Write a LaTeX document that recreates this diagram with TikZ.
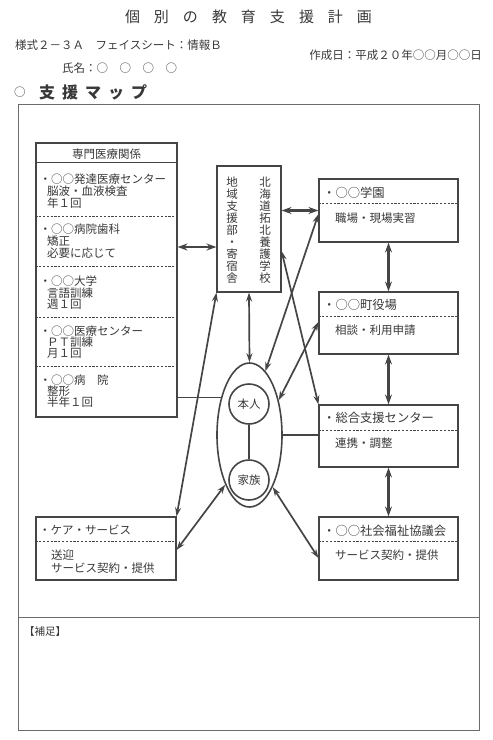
\documentclass[tikz,border=0pt]{standalone}
\usepackage{fontspec}
\newfontfamily\jp{Noto Sans CJK JP}
\usetikzlibrary{arrows.meta,calc,shapes.geometric}
\definecolor{txtc}{gray}{0.22}
\definecolor{linec}{gray}{0.27}
\definecolor{framec}{gray}{0.42}
\tikzset{
  txt/.style={font=\jp\fontsize{11.5}{12}\selectfont, inner sep=0pt, anchor=west, text=txtc},
  txtw/.style={txt, font=\jp\fontsize{12.3}{12}\selectfont},
  vtxt/.style={txt, anchor=center, align=center},
  box/.style={draw=linec, line width=1.1pt, rectangle, inner sep=0pt},
  sepline/.style={draw=linec, line width=0.7pt, dash pattern=on 2.2pt off 1.6pt},
  plain/.style={draw=linec, line width=1.1pt},
  conn/.style={draw=linec, line width=1.7pt, {Stealth[length=9pt,width=6pt]}-{Stealth[length=9pt,width=6pt]}},
  thickconn/.style={draw=linec, line width=2.6pt, {Stealth[length=10pt,width=7pt]}-{Stealth[length=10pt,width=7pt]}},
  circ/.style={draw=linec, line width=1.6pt, circle, minimum size=40pt, inner sep=0pt, font=\jp\fontsize{11.5}{12}\selectfont, text=txtc},
}
\begin{document}
\begin{tikzpicture}[x=1pt,y=-1pt]
\useasboundingbox (0,0) rectangle (493,740);

% header
\node[font=\jp\fontsize{15}{15}\selectfont, text=txtc, inner sep=0pt] (title) at (248.5,17)
  {個\hspace{14pt}別\hspace{14pt}の\hspace{14pt}教\hspace{14pt}育\hspace{14pt}支\hspace{14pt}援\hspace{14pt}計\hspace{14pt}画};
\node[txt] (form) at (15,45) {様式２－３Ａ　フェイスシート：情報Ｂ};
\node[txt, anchor=east] (date) at (482,55) {作成日：平成２０年○○月○○日};
\node[txt] (name) at (62,68) {氏名：○　○　○　○};
\node[txt] (mark) at (14,92) {○};
\node[txt, font=\jp\bfseries\fontsize{16}{16}\selectfont] (maptitle) at (39,92)
  {支\hspace{7pt}援\hspace{7pt}マ\hspace{7pt}ッ\hspace{7pt}プ};

% frame
\node[draw=framec, line width=1pt, rectangle, inner sep=0pt, minimum width=461pt, minimum height=626pt] (frame) at (248.5,417) {};
\coordinate (ydiv) at (0,617);
\draw[draw=framec, line width=1pt] (frame.west |- ydiv) -- (frame.east |- ydiv);
\node[txt, font=\jp\fontsize{10.5}{12}\selectfont] (hosoku) at (24,632) {【補足】};

% medical box
\node[box, minimum width=141pt, minimum height=274pt] (med) at (106.5,280) {};
\node[txt, anchor=center] (medh) at (106.5,154) {専門医療関係};
\draw[plain] ($(med.north west)+(0,20)$) -- ($(med.north east)+(0,20)$);
\foreach \d in {74,124,175,224}
  \draw[sepline] ($(med.north west)+(0,\d)$) -- ($(med.north east)+(0,\d)$);
\node[txt] (m1a) at (39.5,179) {・○○発達医療センター};
\node[txt] (m1b) at (47,191) {脳波・血液検査};
\node[txt] (m1c) at (47,203) {年１回};
\node[txt] (m2a) at (39.5,229.5) {・○○病院歯科};
\node[txt] (m2b) at (47,241) {矯正};
\node[txt] (m2c) at (47,253) {必要に応じて};
\node[txt] (m3a) at (39.5,281) {・○○大学};
\node[txt] (m3b) at (47,293) {言語訓練};
\node[txt] (m3c) at (47,304) {週１回};
\node[txt] (m4a) at (39.5,331) {・○○医療センター};
\node[txt] (m4b) at (47,342) {ＰＴ訓練};
\node[txt] (m4c) at (47,353) {月１回};
\node[txt] (m5a) at (39.5,380) {・○○病　院};
\node[txt] (m5b) at (47,391) {整形};
\node[txt] (m5c) at (47,402) {半年１回};

% school box (vertical text)
\node[box, minimum width=64pt, minimum height=126pt] (school) at (249,229) {};
\node[vtxt] (schoolR) at (265,230) {北\\海\\道\\拓\\北\\養\\護\\学\\校};
\node[vtxt] (schoolL) at (232,230) {地\\域\\支\\援\\部\\・\\寄\\宿\\舎};

% right boxes
\node[box, minimum width=139pt, minimum height=63pt] (gakuen) at (388.5,210.5) {};
\draw[sepline] ($(gakuen.north west)+(0,25)$) -- ($(gakuen.north east)+(0,25)$);
\node[txtw] (g1) at (323,193) {・○○学園};
\node[txt] (g2) at (335,218) {職場・現場実習};

\node[box, minimum width=139pt, minimum height=62pt] (yakuba) at (388.5,323) {};
\draw[sepline] ($(yakuba.north west)+(0,25)$) -- ($(yakuba.north east)+(0,25)$);
\node[txtw] (y1) at (323,305) {・○○町役場};
\node[txt] (y2) at (335,330) {相談・利用申請};

\node[box, minimum width=139pt, minimum height=62pt] (sogo) at (388.5,436) {};
\draw[sepline] ($(sogo.north west)+(0,26)$) -- ($(sogo.north east)+(0,26)$);
\node[txtw] (s1) at (323,418) {・総合支援センター};
\node[txt] (s2) at (335,443) {連携・調整};

\node[box, minimum width=139pt, minimum height=63pt] (shakyo) at (388.5,548.5) {};
\draw[sepline] ($(shakyo.north west)+(0,25)$) -- ($(shakyo.north east)+(0,25)$);
\node[txtw] (k1) at (323,531) {・○○社会福祉協議会};
\node[txt] (k2) at (335,555) {サービス契約・提供};

% care box
\node[box, minimum width=140pt, minimum height=63pt] (care) at (106,548.5) {};
\draw[sepline] ($(care.north west)+(0,25)$) -- ($(care.north east)+(0,25)$);
\node[txt] (c1) at (39,530) {・ケア・サービス};
\node[txt] (c2) at (51,555) {送迎};
\node[txt] (c3) at (51,568) {サービス契約・提供};

% ellipse and circles
\node[draw=linec, line width=1.6pt, ellipse, minimum width=65pt, minimum height=144pt, inner sep=0pt] (ell) at (249.5,435) {};
\node[circ] (honnin) at (249,404) {本人};
\node[circ] (kazoku) at (249,480) {家族};
\draw[plain] (honnin.south) -- (kazoku.north);

% connectors
\coordinate (y247) at (0,247);
\coordinate (y250) at (0,251);
\coordinate (y214) at (0,214);
\coordinate (y322) at (0,322);
\coordinate (y550) at (0,550);
\coordinate (y558) at (0,558);

\draw[thickconn] (med.east |- y247) -- (school.west |- y247);
\draw[thickconn] (school.east |- gakuen.west) -- (gakuen.west);
\draw[thickconn] (gakuen.south) -- (yakuba.north);
\draw[thickconn] (yakuba.south) -- (sogo.north);
\draw[thickconn] (sogo.south) -- (shakyo.north);

\draw[conn] (school.south) -- (ell.north);
\draw[conn] (school.south west) -- (care.north east);
\draw[conn] (school.east |- y250) -- (sogo.north west);
\draw[conn] (gakuen.west |- y214) -- (ell.76);
\draw[conn] (yakuba.west |- y322) -- (ell.50);
\draw[conn] (ell.244) -- (care.east |- y550);
\draw[conn] (ell.-66) -- (shakyo.west |- y558);

\draw[plain] (ell.127) -- (med.east |- ell.127);
\draw[plain] (ell.east) -- (sogo.west |- ell.east);
\end{tikzpicture}
\end{document}
